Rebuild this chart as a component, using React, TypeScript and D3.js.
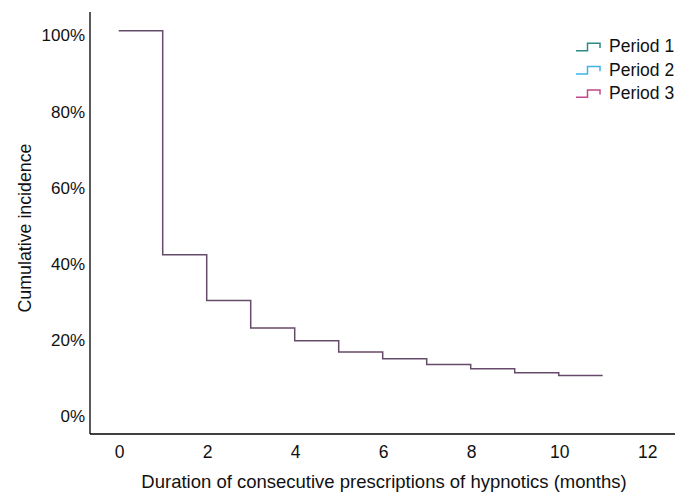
import { useEffect, useRef } from "react";
import * as d3 from "d3";

const months = [0, 1, 2, 3, 4, 5, 6, 7, 8, 9, 10, 11];
// the three periods overlap almost exactly, drawn as one purple step curve
const incidence = [1.012, 0.424, 0.304, 0.232, 0.198, 0.169, 0.151, 0.136, 0.125, 0.114, 0.107, 0.107];

const periods = ["Period 1", "Period 2", "Period 3"];
const periodColors = ["#2c8a86", "#42b3e8", "#c0478b"];

const xTicks = [0, 2, 4, 6, 8, 10, 12];
const yTicks = [0, 0.2, 0.4, 0.6, 0.8, 1];

const FONT = "Liberation Sans, Arial, Helvetica, sans-serif";

export default function App() {
  const svgRef = useRef<SVGSVGElement>(null);

  useEffect(() => {
    if (!svgRef.current) return;
    const width = 688;
    const height = 495;

    const svg = d3.select(svgRef.current).attr("width", width).attr("height", height);
    svg.selectAll("*").remove();

    const x = d3.scaleLinear().domain([0, 12]).range([118.7, 646.7]);
    const y = d3.scaleLinear().domain([0, 1]).range([416.3, 35.3]);

    const axisLeftX = 90;
    const axisBottomY = 434;

    // Step curve
    const pts = months.map((m, i) => ({ m, v: incidence[i] }));
    const line = d3
      .line<(typeof pts)[0]>()
      .x((d) => x(d.m))
      .y((d) => y(d.v))
      .curve(d3.curveStepAfter);

    svg
      .append("path")
      .datum(pts)
      .attr("fill", "none")
      .attr("stroke", "#654a6a")
      .attr("stroke-width", 1.5)
      .attr("d", line);

    // Axes lines
    svg
      .append("line")
      .attr("x1", axisLeftX)
      .attr("x2", axisLeftX)
      .attr("y1", 12)
      .attr("y2", axisBottomY)
      .attr("stroke", "#000")
      .attr("stroke-width", 1.3);

    svg
      .append("line")
      .attr("x1", axisLeftX)
      .attr("x2", 675)
      .attr("y1", axisBottomY)
      .attr("y2", axisBottomY)
      .attr("stroke", "#000")
      .attr("stroke-width", 1.3);

    // Tick labels
    svg
      .selectAll(".ytick")
      .data(yTicks)
      .join("text")
      .attr("x", axisLeftX - 5)
      .attr("y", (d) => y(d))
      .attr("dy", "0.36em")
      .attr("text-anchor", "end")
      .attr("font-family", FONT)
      .attr("font-size", 17)
      .attr("fill", "#111")
      .text((d) => `${Math.round(d * 100)}%`);

    svg
      .selectAll(".xtick")
      .data(xTicks)
      .join("text")
      .attr("x", (d) => x(d) + 1)
      .attr("y", 457.7)
      .attr("text-anchor", "middle")
      .attr("font-family", FONT)
      .attr("font-size", 17.5)
      .attr("fill", "#111")
      .text((d) => String(d));

    // Axis titles
    svg
      .append("text")
      .attr("x", 384)
      .attr("y", 488)
      .attr("text-anchor", "middle")
      .attr("font-family", FONT)
      .attr("font-size", 18.5)
      .attr("fill", "#111")
      .text("Duration of consecutive prescriptions of hypnotics (months)");

    svg
      .append("text")
      .attr("transform", `translate(30.5,228) rotate(-90)`)
      .attr("text-anchor", "middle")
      .attr("font-family", FONT)
      .attr("font-size", 17.8)
      .attr("fill", "#111")
      .text("Cumulative incidence");

    // Legend
    const legend = svg.append("g").attr("transform", "translate(576,46)");
    periods.forEach((p, i) => {
      const gy = i * 23.3;
      legend
        .append("path")
        .attr("d", `M0,${gy + 4.7} H11.5 V${gy - 2.7} H24 V${gy + 2}`)
        .attr("fill", "none")
        .attr("stroke", periodColors[i])
        .attr("stroke-width", 1.5);
      legend
        .append("text")
        .attr("x", 33)
        .attr("y", gy)
        .attr("dy", "0.36em")
        .attr("font-family", FONT)
        .attr("font-size", 17.5)
        .attr("fill", "#111")
        .text(p);
    });
  }, []);

  return (
    <div style={{ position: "absolute", left: 0, top: 0 }}>
      <svg ref={svgRef} style={{ display: "block" }} />
    </div>
  );
}
